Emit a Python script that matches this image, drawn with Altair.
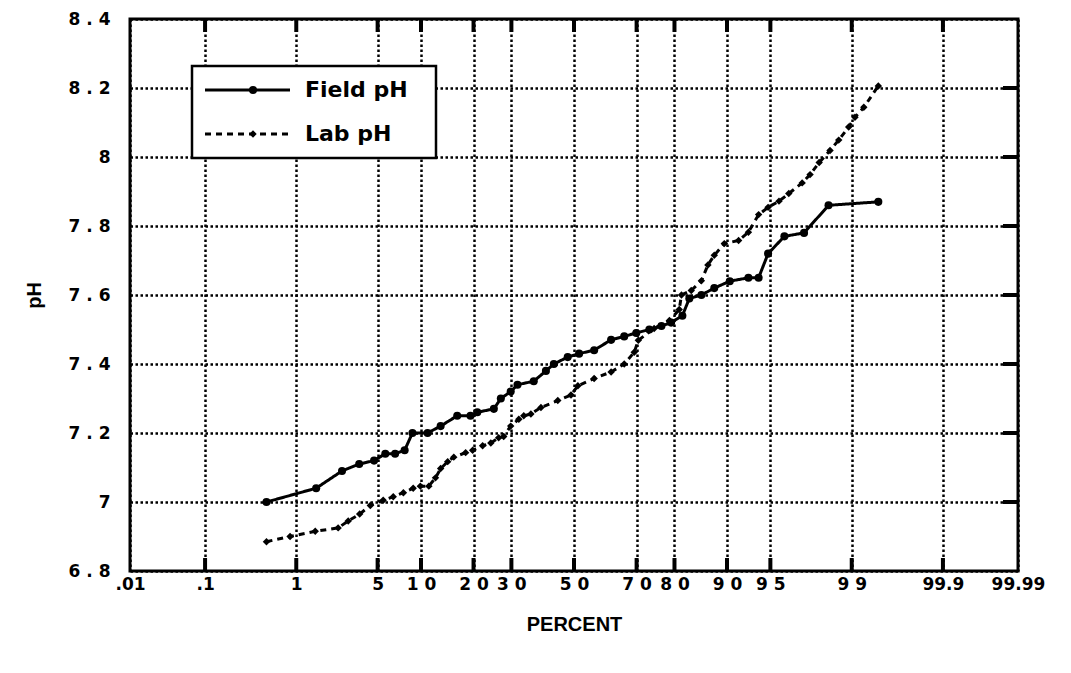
import altair as alt
import pandas as pd
from statistics import NormalDist

# ---------------- data ----------------
series_names = ["Field pH", "Lab pH"]

field_pct = [0.50, 1.54, 2.6, 3.6, 4.7, 5.7, 6.7, 7.8, 8.8, 11.0, 13.2, 16.4, 19.3, 20.9,
             25.1, 27.0, 29.8, 31.8, 36.8, 40.7, 43.3, 47.9, 51.7, 56.7, 62.2, 66.3, 69.9,
             73.6, 76.8, 79.2, 81.8, 83.3, 85.7, 88.0, 90.4, 92.8, 93.9, 94.8, 96.1, 97.3,
             98.35, 99.46]
field_ph = [7.00, 7.04, 7.09, 7.11, 7.12, 7.14, 7.14, 7.15, 7.20, 7.20, 7.22, 7.25, 7.25, 7.26,
            7.27, 7.30, 7.32, 7.34, 7.35, 7.38, 7.40, 7.42, 7.43, 7.44, 7.47, 7.48, 7.49,
            7.50, 7.51, 7.52, 7.54, 7.59, 7.60, 7.62, 7.64, 7.65, 7.65, 7.72, 7.77, 7.78,
            7.86, 7.87]

lab_pct = [0.50, 0.87, 1.51, 2.41, 2.93, 3.63, 4.40, 5.5, 6.5, 7.65, 8.9, 9.9, 11.2, 12.3,
           13.2, 14.5, 15.7, 18.2, 19.8, 22.2, 24.3, 26.4, 27.8, 29.8, 32.2, 33.7, 35.9,
           39.1, 44.6, 49.0, 51.3, 56.7, 62.2, 66.3, 69.3, 70.5, 74.9, 78.8, 81.1, 81.6,
           83.7, 85.7, 86.9, 88.0, 89.6, 91.6, 92.8, 93.9, 94.8, 95.7, 96.4, 97.2, 97.6,
           98.0, 98.4, 98.67, 98.93, 99.07, 99.24, 99.46]
lab_ph = [6.885, 6.90, 6.915, 6.925, 6.945, 6.965, 6.99, 7.005, 7.015, 7.027, 7.04, 7.046,
          7.046, 7.07, 7.097, 7.117, 7.13, 7.143, 7.15, 7.163, 7.171, 7.186, 7.19, 7.22,
          7.24, 7.25, 7.255, 7.274, 7.294, 7.31, 7.337, 7.358, 7.377, 7.40, 7.434, 7.469,
          7.503, 7.526, 7.558, 7.60, 7.613, 7.641, 7.687, 7.715, 7.749, 7.758, 7.782,
          7.833, 7.854, 7.872, 7.894, 7.925, 7.949, 7.984, 8.019, 8.049, 8.087, 8.115,
          8.144, 8.206]

pct_ticks = [0.01, 0.1, 1, 5, 10, 20, 30, 50, 70, 80, 90, 95, 99, 99.9, 99.99]
pct_labels = [".01", ".1", "1", "5", "1 0", "2 0", "3 0", "5 0", "7 0", "8 0", "9 0",
              "9 5", "9 9", "99.9", "99.99"]

ph_ticks = [6.8, 7.0, 7.2, 7.4, 7.6, 7.8, 8.0, 8.2, 8.4]
ph_labels = ["6 . 8", "7", "7 . 2", "7 . 4", "7 . 6", "7 . 8", "8", "8 . 2", "8 . 4"]

# ---------------- build tables ----------------
nd = NormalDist()


def zval(p):
    return nd.inv_cdf(p / 100.0)


rows = []
for name, pcts, phs in [(series_names[0], field_pct, field_ph),
                        (series_names[1], lab_pct, lab_ph)]:
    for p, v in zip(pcts, phs):
        rows.append({"series": name, "pct": p, "ph": v, "z": zval(p)})
df = pd.DataFrame(rows)

z_ticks = [round(zval(p), 6) for p in pct_ticks]
zmin, zmax = z_ticks[0], z_ticks[-1]

x_expr = "".join(f"abs(datum.value - ({z})) < 0.001 ? '{l}' : " for z, l in zip(z_ticks, pct_labels)) + "''"
y_expr = "".join(f"abs(datum.value - {v}) < 0.001 ? '{l}' : " for v, l in zip(ph_ticks, ph_labels)) + "''"

W, H = 888, 552

xscale = alt.Scale(domain=[zmin, zmax], nice=False, zero=False)
yscale = alt.Scale(domain=[6.8, 8.4], nice=False, zero=False)

common = dict(grid=True, gridDash=[2.5, 2.5], gridColor="black", gridWidth=2.5, gridOpacity=1,
              ticks=False, tickSize=0, domain=False,
              labelFont="DejaVu Sans", labelFontWeight="bold", labelFontSize=17,
              labelColor="black", labelOverlap=False, labelFlush=False, labelBound=False,
              titleFont="Liberation Sans", titleFontSize=20, titleFontWeight="bold",
              titleColor="black")
x_axis = alt.Axis(values=z_ticks, labelExpr=x_expr, labelPadding=5, titlePadding=22, **common)
y_axis = alt.Axis(values=ph_ticks, labelExpr=y_expr, labelPadding=20, titlePadding=24, **common)

X = alt.X("z:Q", scale=xscale, axis=x_axis, title="PERCENT")
Y = alt.Y("ph:Q", scale=yscale, axis=y_axis, title="pH")

base = alt.Chart(df)

lines = base.mark_line(color="black", strokeWidth=3).encode(
    x=X, y=Y,
    strokeDash=alt.StrokeDash("series:N",
                              scale=alt.Scale(domain=series_names, range=[[1, 0], [6, 5]]),
                              legend=None),
    order="z:Q",
)

field_pts = base.transform_filter(alt.datum.series == series_names[0]).mark_point(
    shape="circle", filled=True, color="black", size=65, opacity=1).encode(x=X, y=Y)
lab_pts = base.transform_filter(alt.datum.series == series_names[1]).mark_point(
    shape="diamond", filled=True, color="black", size=55, opacity=1).encode(x=X, y=Y)

# inner frame ticks
xt = pd.DataFrame({"z": z_ticks[1:-1]})
yt = pd.DataFrame({"ph": ph_ticks[1:-1]})
top_ticks = alt.Chart(xt).mark_rule(color="black", strokeWidth=4).encode(
    x=X, y=alt.value(0), y2=alt.value(13))
bot_ticks = alt.Chart(xt).mark_rule(color="black", strokeWidth=4).encode(
    x=X, y=alt.value(H - 13), y2=alt.value(H))
right_ticks = alt.Chart(yt).mark_rule(color="black", strokeWidth=4).encode(
    y=Y, x=alt.value(W - 15), x2=alt.value(W))

# legend (drawn inside plot)
one = pd.DataFrame({"a": [0]})
leg_box = alt.Chart(one).mark_rect(fill="white", stroke="black", strokeWidth=2.5).encode(
    x=alt.value(62), x2=alt.value(306), y=alt.value(47), y2=alt.value(139))
leg_layers = [leg_box]
row_y = [71, 115]
dashes = [[1, 0], [6, 5]]
shapes = ["circle", "diamond"]
sizes = [65, 55]
for i, name in enumerate(series_names):
    leg_layers.append(alt.Chart(one).mark_rule(color="black", strokeWidth=3,
                                               strokeDash=dashes[i]).encode(
        x=alt.value(75), x2=alt.value(160), y=alt.value(row_y[i])))
    leg_layers.append(alt.Chart(one).mark_point(shape=shapes[i], filled=True, color="black",
                                                size=sizes[i], opacity=1).encode(
        x=alt.value(123), y=alt.value(row_y[i])))
    leg_layers.append(alt.Chart(pd.DataFrame({"t": [name.replace(" ", "  ") if i == 0 else name]}))
                      .mark_text(align="left", baseline="middle", font="DejaVu Sans",
                                 fontWeight="bold", fontSize=22, color="black").encode(
        x=alt.value(175), y=alt.value(row_y[i]), text="t:N"))

chart = alt.layer(lines, field_pts, lab_pts, top_ticks, bot_ticks, right_ticks,
                  *leg_layers).properties(
    width=W, height=H,
    autosize=alt.AutoSizeParams(type="none"),
    padding={"left": 122, "top": 11, "right": 40, "bottom": 94},
    background="white",
).configure_view(stroke="black", strokeWidth=3)

chart.save("out.html", embed_options={"renderer": "svg", "actions": False})
